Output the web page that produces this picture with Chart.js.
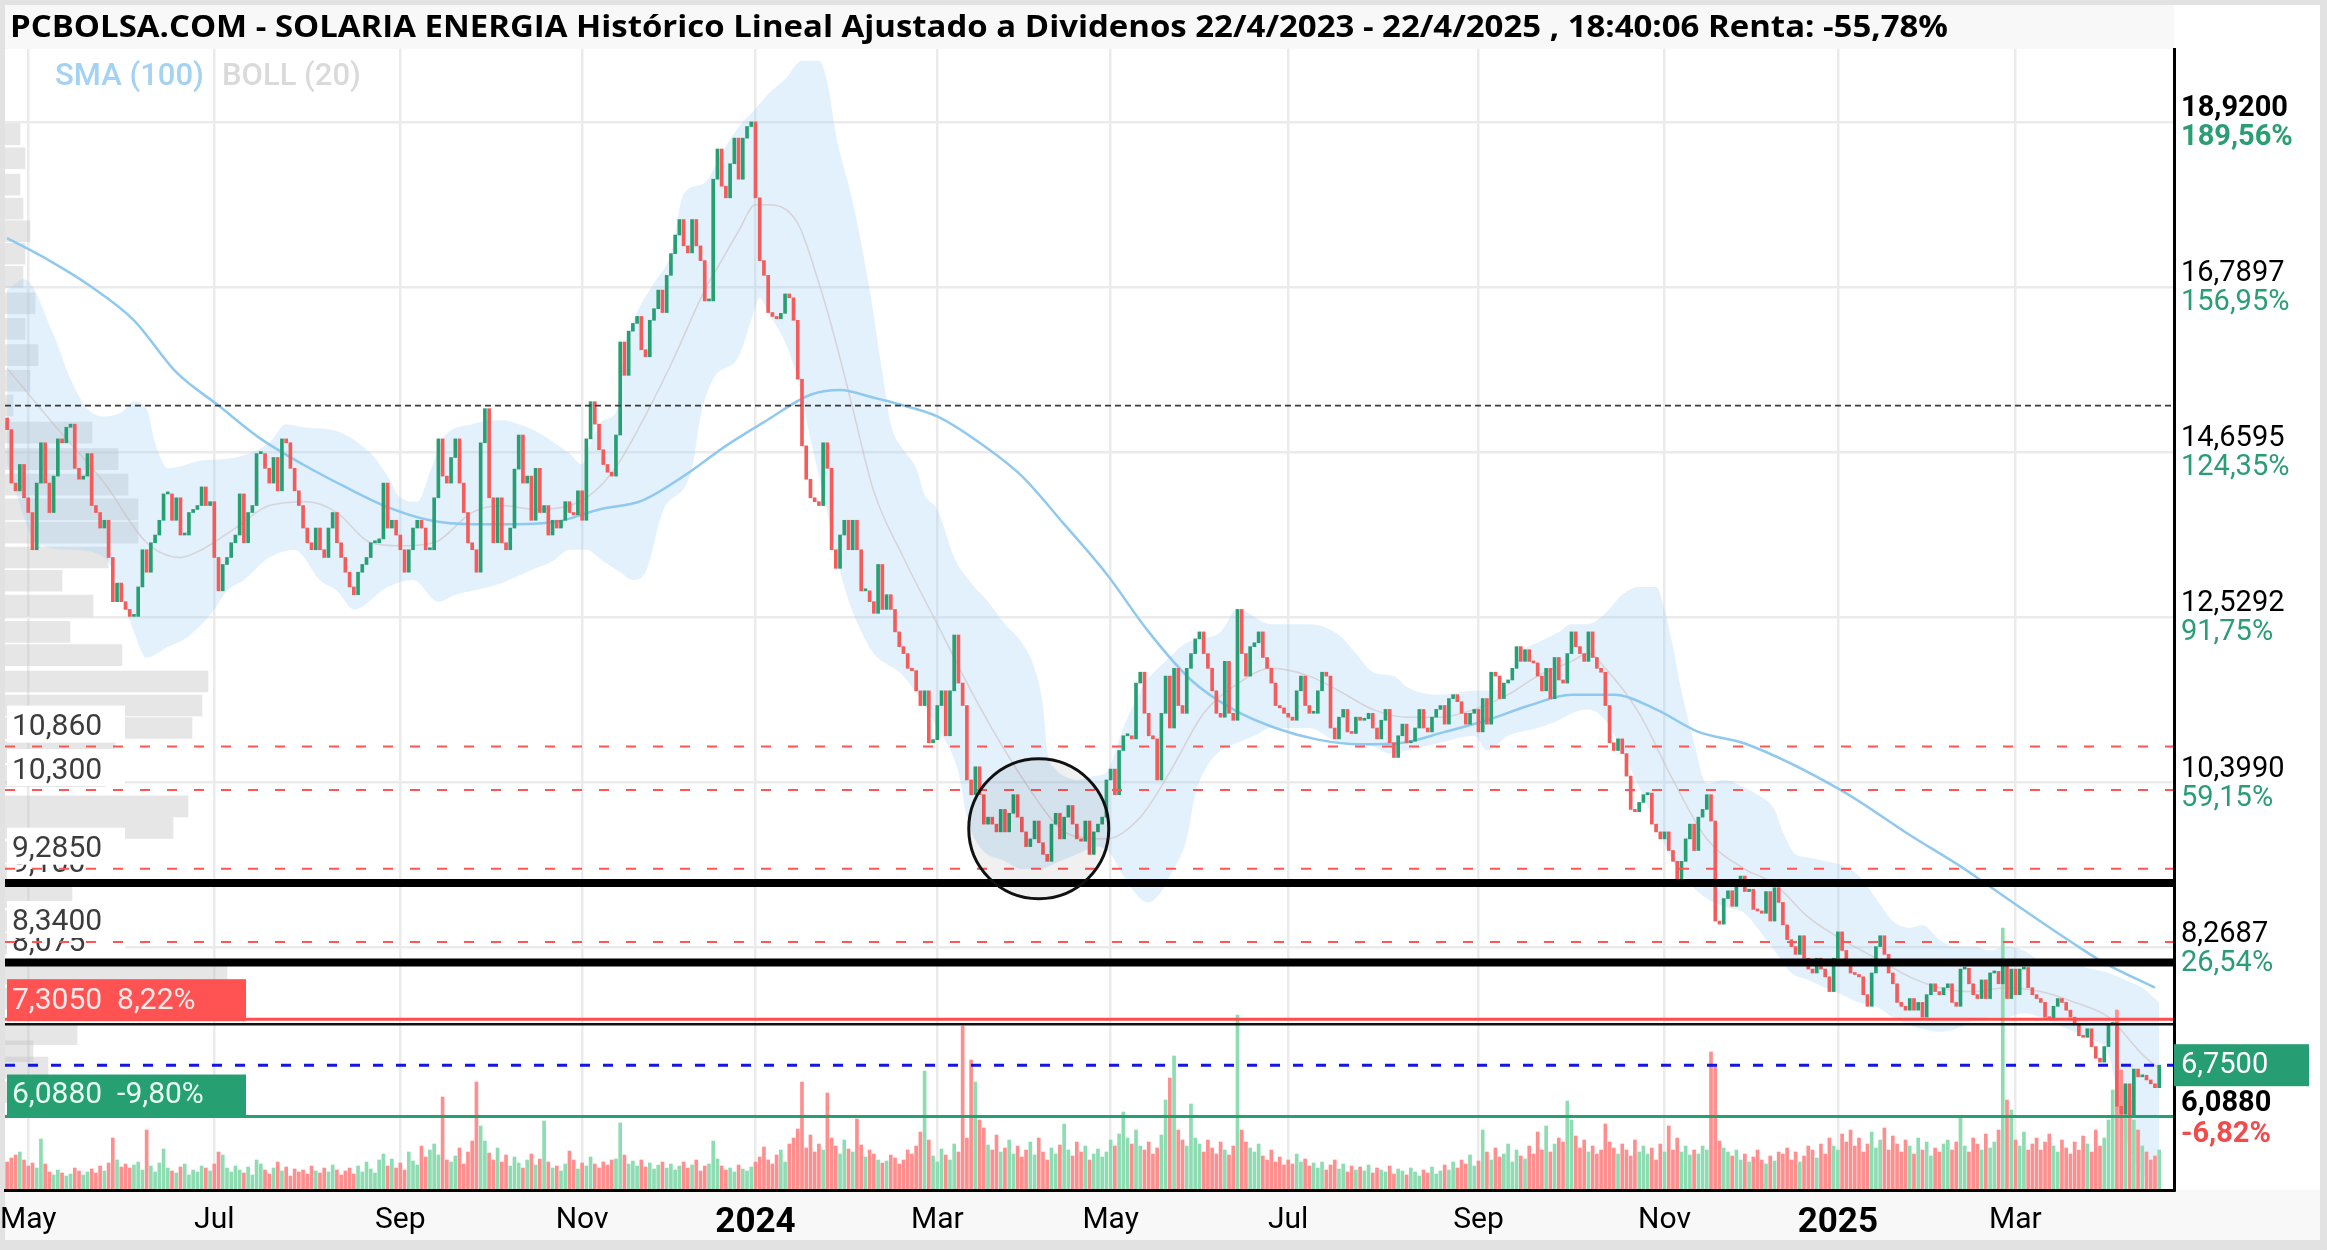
<!DOCTYPE html>
<html>
<head>
<meta charset="utf-8">
<script src="https://cdn.jsdelivr.net/npm/chart.js@4.4.1/dist/chart.umd.min.js"></script>
<style>
  html, body { margin: 0; padding: 0; background: #fff; }
  canvas { display: block; }
</style>
</head>
<body>
<canvas id="chart" width="2327" height="1250"></canvas>
<script>
// SOLARIA ENERGIA daily candles 24/4/2023 - 22/4/2025

const TITLE = 'PCBOLSA.COM - SOLARIA ENERGIA Histórico Lineal Ajustado a Dividenos 22/4/2023 - 22/4/2025 , 18:40:06 Renta: -55,78%';
const N_SLOTS = 513; // 510 sessions + a little room on the right

const firstOpen = 15.10;
// daily closes, one row = 10 sessions
const closes = [
  14.95, 14.26, 14.16, 14.50, 14.07, 13.88, 13.40, 14.26, 14.78, 14.26,
  13.88, 14.35, 14.83, 14.78, 14.98, 15.02, 14.45, 14.31, 14.35, 14.64,
  13.97, 13.88, 13.68, 13.78, 13.30, 12.73, 12.97, 12.73, 12.63, 12.54,
  12.54, 12.92, 13.40, 13.11, 13.49, 13.59, 13.78, 14.12, 14.12, 13.78,
  14.07, 13.59, 13.59, 13.88, 13.92, 13.97, 14.21, 13.97, 14.02, 13.30,
  12.87, 13.21, 13.30, 13.49, 13.59, 14.12, 13.49, 13.88, 13.97, 14.64,
  14.64, 14.45, 14.26, 14.59, 14.16, 14.83, 14.78, 14.45, 14.16, 13.97,
  13.68, 13.49, 13.40, 13.68, 13.40, 13.30, 13.68, 13.88, 13.49, 13.30,
  13.11, 12.92, 12.82, 13.11, 13.21, 13.30, 13.49, 13.49, 13.54, 14.26,
  13.68, 13.78, 13.59, 13.40, 13.11, 13.40, 13.68, 13.78, 13.68, 13.40,
  13.40, 14.07, 14.83, 14.35, 14.26, 14.59, 14.83, 14.26, 13.88, 13.49,
  13.40, 13.11, 14.78, 15.22, 14.07, 13.49, 14.07, 13.49, 13.40, 13.68,
  14.44, 14.88, 14.26, 14.35, 13.78, 14.45, 13.88, 13.97, 13.59, 13.78,
  13.68, 13.78, 14.02, 13.88, 13.85, 14.16, 13.78, 14.83, 15.31, 15.02,
  14.69, 14.50, 14.40, 14.35, 14.88, 16.08, 15.65, 16.22, 16.32, 16.41,
  15.98, 15.89, 16.36, 16.51, 16.75, 16.46, 16.94, 17.22, 17.46, 17.66,
  17.32, 17.23, 17.66, 17.32, 17.13, 16.61, 16.61, 18.18, 18.57, 18.09,
  17.94, 18.38, 18.71, 18.18, 18.71, 18.86, 18.92, 17.94, 17.13, 16.94,
  16.46, 16.41, 16.38, 16.45, 16.70, 16.65, 16.36, 15.60, 14.74, 14.31,
  14.07, 14.02, 13.97, 14.78, 14.45, 13.40, 13.16, 13.59, 13.78, 13.40,
  13.78, 13.40, 12.87, 12.87, 12.73, 12.58, 13.21, 12.63, 12.82, 12.63,
  12.34, 12.15, 12.06, 11.87, 11.84, 11.58, 11.39, 11.58, 10.91, 10.95,
  11.39, 11.58, 11.00, 11.58, 12.30, 11.68, 11.39, 10.43, 10.24, 10.60,
  10.24, 9.86, 9.95, 9.86, 9.76, 10.05, 9.76, 10.00, 10.24, 9.95,
  9.76, 9.57, 9.67, 9.90, 9.62, 9.47, 9.38, 9.86, 10.00, 9.67,
  9.95, 10.10, 9.86, 9.67, 9.64, 9.90, 9.47, 9.76, 9.86, 9.95,
  10.43, 10.57, 10.24, 10.81, 11.00, 11.00, 10.96, 11.68, 11.82, 11.29,
  11.00, 10.96, 10.43, 11.29, 11.77, 11.10, 11.87, 11.39, 11.29, 11.87,
  12.06, 12.25, 12.34, 12.06, 11.87, 11.58, 11.29, 11.24, 11.96, 11.29,
  11.20, 12.63, 12.06, 11.77, 12.15, 12.20, 12.34, 12.01, 11.87, 11.68,
  11.39, 11.36, 11.29, 11.24, 11.20, 11.58, 11.77, 11.39, 11.29, 11.29,
  11.58, 11.82, 11.77, 11.10, 10.96, 11.24, 11.34, 11.05, 11.03, 11.24,
  11.20, 11.22, 11.29, 11.10, 10.96, 11.20, 11.34, 10.91, 10.72, 11.00,
  11.15, 10.91, 10.93, 11.10, 11.34, 11.10, 11.05, 11.24, 11.34, 11.39,
  11.15, 11.48, 11.53, 11.44, 11.29, 11.15, 11.29, 11.34, 11.05, 11.48,
  11.15, 11.82, 11.77, 11.48, 11.68, 11.72, 11.87, 12.15, 11.96, 12.11,
  11.96, 11.94, 11.77, 11.58, 11.87, 11.48, 12.01, 11.72, 11.68, 12.06,
  12.34, 12.15, 12.06, 11.96, 12.34, 12.01, 11.87, 11.82, 11.39, 10.91,
  10.81, 10.96, 10.77, 10.48, 10.05, 10.02, 10.14, 10.24, 10.26, 9.86,
  9.76, 9.67, 9.76, 9.52, 9.38, 9.09, 9.38, 9.67, 9.86, 9.52,
  9.95, 10.05, 10.24, 9.90, 8.61, 8.57, 8.90, 9.00, 8.80, 9.09,
  9.19, 8.99, 9.02, 8.76, 8.74, 8.71, 8.99, 8.61, 9.04, 8.85,
  8.56, 8.37, 8.28, 8.18, 8.42, 8.13, 7.99, 7.94, 8.13, 7.99,
  7.89, 7.70, 8.13, 8.47, 8.23, 8.09, 7.94, 7.92, 7.89, 7.66,
  7.51, 7.94, 8.28, 8.42, 8.18, 7.94, 7.80, 7.56, 7.51, 7.46,
  7.61, 7.46, 7.56, 7.37, 7.66, 7.80, 7.70, 7.66, 7.75, 7.80,
  7.56, 7.51, 7.99, 8.00, 7.80, 7.66, 7.61, 7.85, 7.61, 7.94,
  7.96, 7.80, 8.04, 7.61, 7.99, 7.66, 7.99, 8.01, 7.75, 7.66,
  7.61, 7.56, 7.37, 7.35, 7.51, 7.61, 7.56, 7.46, 7.37, 7.27,
  7.13, 7.11, 7.22, 6.99, 6.84, 6.79, 6.99, 7.27, 7.30, 6.22,
  6.12, 6.51, 6.09, 6.70, 6.60, 6.62, 6.56, 6.51, 6.46, 6.75
];

// daily volume (relative units)
const volumes = [
  28, 32, 35, 38, 30, 24, 27, 22, 51, 26,
  18, 15, 20, 17, 14, 16, 22, 19, 15, 18,
  21, 17, 24, 19, 27, 52, 30, 23, 26, 22,
  25, 28, 20, 60, 24, 18, 27, 41, 22, 19,
  17, 23, 26, 15, 20, 18, 24, 22, 19, 26,
  38, 35, 22, 18, 24, 20, 17, 23, 15, 30,
  26, 20, 16, 22, 28, 19, 23, 14, 21, 18,
  20, 16, 24, 19, 17, 22, 18, 25, 20, 15,
  19, 22, 16, 24, 18, 28, 21, 17, 30, 36,
  24, 31, 22, 27, 20, 38, 29, 25, 44, 33,
  40, 46, 35, 93, 30, 28, 34, 42, 26, 38,
  49, 108, 64, 49, 37, 30, 42, 28, 35, 24,
  33, 27, 22, 30, 36, 25, 31, 69, 28, 22,
  24, 19, 26, 39, 30, 21, 27, 24, 33, 26,
  22, 28, 25, 30, 31, 67, 35, 26, 29, 24,
  30, 23, 27, 21, 25, 28, 22, 26, 20, 24,
  28, 22, 25, 30, 19, 24, 26, 49, 31, 24,
  20, 22, 18, 25, 21, 19, 23, 28, 33, 43,
  30, 26, 35, 40, 28, 46, 52, 61, 108, 42,
  55, 38, 46, 40, 97, 52, 44, 36, 50, 41,
  38, 71, 45, 33, 40, 36, 30, 27, 29, 35,
  32, 26, 30, 40, 36, 44, 58, 119, 50, 34,
  28, 41, 35, 30, 46, 38, 164, 52, 130, 108,
  70, 62, 45, 40, 55, 38, 42, 50, 36, 44,
  33, 40, 48, 35, 52, 38, 30, 42, 36, 45,
  66, 40, 34, 48, 38, 44, 30, 36, 41, 33,
  38, 50, 44, 56, 78, 52, 46, 60, 44, 40,
  48, 36, 42, 55, 90, 112, 134, 60, 50, 44,
  86, 52, 46, 38, 50, 42, 36, 48, 40, 35,
  44, 175, 60, 48, 42, 38, 46, 34, 30, 40,
  28, 33, 25, 30, 26, 36, 28, 31, 24, 27,
  22, 28, 20, 25, 30, 21, 26, 18, 24, 20,
  23, 19, 25, 17, 22, 20, 18, 24, 16, 21,
  19, 15, 22, 18, 14, 20, 17, 23, 16, 19,
  25, 20, 28, 22, 30, 26, 35, 24, 29, 60,
  38, 30, 42, 33, 36, 46, 28, 40, 34, 31,
  44, 36, 58, 40, 64, 38, 46, 52, 48, 89,
  70, 54, 42, 50, 38, 44, 36, 40, 66, 48,
  42, 36, 46, 40, 34, 50, 38, 44, 36, 42,
  30, 46, 38, 64, 40, 52, 38, 44, 35, 40,
  36, 44, 40, 138, 123, 49, 42, 38, 34, 40,
  30, 36, 28, 33, 40, 30, 26, 34, 29, 38,
  36, 42, 30, 38, 28, 34, 44, 40, 32, 46,
  36, 52, 44, 40, 56, 48, 60, 44, 52, 38,
  46, 58, 42, 50, 62, 40, 54, 46, 38, 50,
  44, 36, 52, 40, 48, 34, 42, 38, 46, 50,
  40, 48, 74, 44, 38, 52, 46, 40, 56, 42,
  48, 60, 262, 90, 80, 50, 44, 58, 40, 46,
  52, 40, 48, 56, 44, 38, 50, 42, 36, 48,
  40, 54, 46, 38, 60, 44, 52, 70, 100, 180,
  120, 105, 90, 70, 60, 44, 38, 30, 34, 40
];

const monthIdx = [5, 49, 93, 136, 177, 220, 261, 303, 348, 392, 433, 475];
const monthLabels = ['May', 'Jul', 'Sep', 'Nov', '2024', 'Mar', 'May', 'Jul', 'Sep', 'Nov', '2025', 'Mar'];

// indicator lines: [session, price]
const smaPts = [
  [0, 17.42], [10, 17.13], [20, 16.79], [30, 16.36], [40, 15.69], [50, 15.26], [60, 14.83], [70, 14.50],
  [80, 14.21], [90, 13.95], [100, 13.78], [110, 13.73], [120, 13.73], [130, 13.76], [140, 13.92], [150, 14.03],
  [160, 14.35], [170, 14.74], [180, 15.08], [190, 15.40], [197, 15.46], [205, 15.36], [210, 15.29], [220, 15.12],
  [230, 14.78], [240, 14.35], [250, 13.73], [260, 13.09], [270, 12.34], [280, 11.72], [290, 11.34], [300, 11.10],
  [310, 10.95], [320, 10.89], [330, 10.91], [340, 11.05], [350, 11.20], [360, 11.39], [370, 11.53], [380, 11.53],
  [390, 11.34], [400, 11.05], [411, 10.90], [434, 10.29], [450, 9.72], [463, 9.28], [468, 9.09], [489, 8.31],
  [496, 8.07], [508, 7.75]
];
const bbUpperPts = [
  [0, 16.75], [4, 16.89], [11, 16.17], [15, 15.60], [19, 15.22], [23, 15.12], [27, 15.17], [30, 15.31], [33, 15.22],
  [35, 14.78], [38, 14.45], [46, 14.55], [54, 14.59], [62, 14.78], [66, 15.02], [70, 14.98], [78, 14.93], [86, 14.64],
  [90, 14.35], [93, 14.07], [97, 14.02], [100, 14.40], [103, 14.83], [110, 15.02], [117, 15.07], [121, 15.02],
  [125, 14.93], [133, 14.64], [136, 14.50], [138, 14.78], [141, 15.07], [144, 15.17], [146, 15.98], [149, 16.46],
  [153, 16.84], [157, 17.22], [160, 17.99], [165, 18.13], [169, 18.52], [173, 18.85], [177, 19.09], [180, 19.28],
  [184, 19.47], [188, 19.71], [192, 19.71], [194, 19.43], [196, 18.76], [200, 17.89], [204, 16.75], [207, 15.69],
  [209, 15.02], [212, 14.69], [215, 14.45], [217, 14.11], [220, 13.92], [224, 13.30], [228, 12.97], [232, 12.73],
  [236, 12.44], [240, 12.20], [243, 11.87], [245, 11.39], [246, 10.81], [248, 10.57], [250, 10.48], [253, 10.43],
  [257, 10.48], [260, 10.53], [264, 11.10], [269, 11.67], [274, 11.96], [279, 12.20], [287, 12.34], [291, 12.63],
  [299, 12.44], [308, 12.44], [315, 12.30], [319, 12.06], [323, 11.82], [328, 11.77], [331, 11.63], [339, 11.53],
  [347, 11.58], [350, 11.58], [355, 11.67], [358, 12.06], [362, 12.20], [367, 12.34], [370, 12.44], [374, 12.44],
  [378, 12.58], [382, 12.82], [386, 12.92], [390, 12.92], [392, 12.63], [394, 12.15], [396, 11.58], [399, 10.91],
  [402, 10.38], [406, 10.43], [411, 10.33], [414, 10.24], [418, 10.05], [420, 9.76], [423, 9.47], [426, 9.43],
  [430, 9.38], [434, 9.33], [438, 9.19], [442, 8.90], [446, 8.61], [450, 8.52], [453, 8.56], [457, 8.37],
  [461, 8.28], [465, 8.28], [469, 8.23], [473, 8.28], [477, 8.23], [481, 8.09], [485, 8.04], [489, 8.04],
  [493, 7.99], [497, 7.94], [501, 7.85], [505, 7.75], [509, 7.56]
];
const bbLowerPts = [
  [0, 14.50], [7, 13.49], [15, 13.40], [23, 13.30], [26, 13.01], [30, 12.34], [33, 12.01], [38, 12.15], [42, 12.25],
  [46, 12.44], [49, 12.63], [52, 12.87], [56, 13.01], [62, 13.30], [68, 13.40], [74, 13.01], [78, 12.87], [82, 12.63],
  [90, 12.92], [96, 13.01], [102, 12.73], [106, 12.82], [110, 12.87], [114, 12.92], [117, 12.97], [125, 13.16],
  [129, 13.25], [133, 13.40], [137, 13.40], [141, 13.25], [145, 13.11], [148, 13.01], [151, 13.11], [155, 13.88],
  [162, 14.45], [164, 15.12], [167, 15.60], [173, 15.89], [176, 16.36], [178, 16.65], [180, 16.46], [184, 16.08],
  [187, 15.60], [190, 14.83], [194, 13.88], [198, 12.92], [202, 12.35], [205, 12.06], [212, 11.77], [220, 11.10],
  [225, 10.53], [227, 9.95], [230, 9.57], [236, 9.38], [240, 9.28], [244, 9.28], [249, 9.38], [253, 9.47],
  [258, 9.57], [261, 9.47], [264, 9.19], [268, 8.90], [270, 8.85], [273, 8.99], [275, 9.19], [279, 9.67],
  [281, 10.24], [283, 10.53], [287, 10.81], [291, 10.91], [295, 11.00], [299, 11.10], [308, 11.10], [315, 10.91],
  [323, 10.86], [327, 10.77], [331, 10.81], [339, 10.91], [347, 11.00], [350, 10.81], [355, 11.00], [362, 11.10],
  [367, 11.20], [370, 11.29], [374, 11.34], [378, 11.20], [382, 10.81], [386, 10.33], [390, 9.86], [394, 9.38],
  [398, 9.09], [402, 8.90], [406, 8.80], [411, 8.71], [414, 8.52], [418, 8.23], [422, 7.94], [426, 7.85],
  [430, 7.75], [434, 7.66], [438, 7.56], [442, 7.51], [446, 7.37], [450, 7.27], [453, 7.22], [457, 7.18],
  [461, 7.22], [465, 7.32], [469, 7.37], [473, 7.37], [477, 7.42], [481, 7.37], [485, 7.27], [489, 7.18],
  [493, 7.08], [497, 6.89], [499, 6.41], [501, 5.84], [505, 5.36], [509, 5.12]
];
const bbMidPts = [
  [0, 15.74], [11, 15.02], [23, 14.26], [33, 13.49], [41, 13.30], [46, 13.40], [54, 13.68], [62, 13.97], [71, 14.02],
  [78, 13.88], [86, 13.49], [93, 13.45], [101, 13.49], [110, 13.88], [117, 13.97], [125, 13.92], [133, 13.97],
  [137, 14.07], [141, 14.26], [145, 14.55], [149, 14.93], [157, 15.79], [165, 16.75], [169, 17.13], [173, 17.51],
  [177, 17.85], [180, 17.85], [187, 17.61], [192, 16.84], [196, 16.08], [200, 15.22], [205, 14.15], [212, 13.30],
  [220, 12.44], [228, 11.58], [236, 10.81], [244, 10.14], [248, 9.86], [252, 9.71], [260, 9.67], [268, 9.95],
  [275, 10.53], [283, 11.29], [291, 11.67], [299, 11.87], [308, 11.77], [315, 11.58], [323, 11.34], [331, 11.24],
  [339, 11.24], [347, 11.34], [355, 11.53], [362, 11.77], [370, 11.96], [374, 12.06], [378, 11.87], [386, 11.29],
  [394, 10.43], [402, 9.67], [411, 9.28], [418, 9.09], [426, 8.66], [434, 8.37], [442, 8.13], [450, 7.89],
  [457, 7.75], [465, 7.70], [473, 7.75], [481, 7.70], [489, 7.56], [497, 7.37], [505, 6.89], [509, 6.70]
];

// volume-at-price profile on the left: [price, volume]
const profilePts = [
  [18.76, 15], [18.45, 20], [18.11, 15], [17.80, 18], [17.51, 25], [17.22, 20], [16.92, 18], [16.58, 30],
  [16.25, 20], [15.91, 33], [15.58, 25], [15.26, 8], [14.91, 87], [14.57, 113], [14.24, 123], [13.92, 133],
  [13.62, 133], [13.30, 103], [13.00, 57], [12.68, 88], [12.34, 65], [12.04, 117], [11.70, 203], [11.39, 197],
  [11.10, 187], [10.79, 110], [10.48, 100], [10.09, 183], [9.81, 168], [9.50, 110], [9.20, 90], [8.92, 67],
  [8.61, 60], [8.32, 50], [7.93, 222], [7.61, 150], [7.15, 72], [6.93, 28], [6.72, 43], [6.40, 20]
];

// price axis
const yMin = 5.14, yMax = 19.86;
const gridValues = [18.92, 16.7897, 14.6595, 12.5292, 10.399, 8.2687];
const gridPct = ['189,56%', '156,95%', '124,35%', '91,75%', '59,15%', '26,54%'];

// drawn levels
const dashedLevels = [10.86, 10.30, 9.285, 8.34];
const dashedLabels = ['10,860', '10,300', '9,2850', '8,3400'];
const blackLevels = [9.10, 8.075];
const blackLabels = ['9,100', '8,075'];
const refLevel = 15.26;
const targetUp = 7.305, targetUpPct = '8,22%';
const targetDown = 6.088, targetDownPct = '-9,80%';
const lastPrice = 6.75;
const minPrice = 6.088, minPct = '-6,82%';
const circleAt = [244, 9.80];

const FONT = 'Roboto, "DejaVu Sans", sans-serif';
const UP = '#26a073', DOWN = '#f45b5b';
const fmt = (v, d) => v.toFixed(d).replace('.', ',');
const toXY = arr => arr.map(p => ({ x: p[0], y: p[1] }));

// open taken as previous session close
const opens = closes.map((c, i) => (i === 0 ? firstOpen : closes[i - 1]));
const isUp = closes.map((c, i) => c >= opens[i]);

const framePlugin = {
  id: 'frame',
  beforeDraw(chart) {
    const c = chart.ctx, a = chart.chartArea, W = chart.width, H = chart.height;
    c.save();
    c.fillStyle = '#e2e2e2';
    c.fillRect(0, 0, W, H);
    c.fillStyle = '#fff';
    c.fillRect(5, 5, W - 12, H - 15);
    c.fillStyle = '#f8f8f8';
    c.fillRect(5, 5, a.right - 5, a.top - 5);
    c.fillRect(5, a.bottom, W - 12, H - 10 - a.bottom);
    // title, fitted to the width it has in the reference
    c.font = 'bold 30px "Open Sans", ' + FONT;
    c.fillStyle = '#000';
    c.textBaseline = 'middle';
    const tw = c.measureText(TITLE).width;
    c.translate(10, 28);
    c.scale(1938 / tw, 1);
    c.fillText(TITLE, 0, 0);
    c.restore();
  },
  afterDraw(chart) {
    const c = chart.ctx;
    c.save();
    c.textBaseline = 'middle';
    c.font = '500 31px ' + FONT;
    c.fillStyle = '#a3d2f3';
    c.fillText('SMA (100)', 55, 77);
    c.fillStyle = '#dadada';
    c.fillText('BOLL (20)', 222, 77);
    c.restore();
  }
};

const levelsPlugin = {
  id: 'levels',
  afterDatasetsDraw(chart) {
    const c = chart.ctx, a = chart.chartArea, ys = chart.scales.y, xs = chart.scales.x;
    const L = a.left, R = a.right;
    const py = v => ys.getPixelForValue(v);
    const hline = (y) => { c.beginPath(); c.moveTo(L, y); c.lineTo(R, y); c.stroke(); };
    c.save();

    // reference level (dotted)
    c.strokeStyle = '#3a3a3a';
    c.lineWidth = 1.8;
    c.setLineDash([6, 4]);
    hline(py(refLevel));

    // left labels, lowest first so higher boxes overlap lower ones
    const lbls = [];
    dashedLevels.forEach((v, k) => lbls.push([v, dashedLabels[k]]));
    blackLevels.forEach((v, k) => lbls.push([v, blackLabels[k]]));
    lbls.sort((p, q) => p[0] - q[0]);
    c.setLineDash([]);
    c.font = '30px ' + FONT;
    c.textBaseline = 'middle';
    lbls.forEach(([v, t]) => {
      const y = py(v);
      c.fillStyle = '#fff';
      c.fillRect(L + 2, y - 41, 118, 37);
      c.fillStyle = '#3c3c3c';
      c.fillText(t, L + 7, y - 19);
    });

    // dashed red levels
    c.strokeStyle = '#ff5555';
    c.lineWidth = 2;
    c.setLineDash([10, 17]);
    dashedLevels.forEach(v => hline(py(v)));

    // thick black levels
    c.setLineDash([]);
    c.strokeStyle = '#000';
    c.lineWidth = 8;
    blackLevels.forEach(v => hline(py(v)));

    // upper target (red) with its tag
    const yu = py(targetUp);
    c.lineWidth = 3;
    c.strokeStyle = '#ff4d4d';
    hline(yu - 3);
    c.lineWidth = 2.5;
    c.strokeStyle = '#111';
    hline(yu + 2);
    c.fillStyle = '#ff5252';
    c.fillRect(L + 2, yu - 43, 239, 42);
    c.fillStyle = '#ffe9e9';
    c.fillText(fmt(targetUp, 4) + '  ' + targetUpPct, L + 7, yu - 21);

    // last price (blue dashed)
    c.strokeStyle = '#1414e6';
    c.lineWidth = 3;
    c.setLineDash([10, 13]);
    hline(py(lastPrice));

    // lower target (green) with its tag
    c.setLineDash([]);
    const yd = py(targetDown);
    c.strokeStyle = '#26a073';
    c.lineWidth = 3;
    hline(yd);
    c.fillStyle = '#26a073';
    c.fillRect(L + 2, yd - 42, 239, 42);
    c.fillStyle = '#e9fff5';
    c.fillText(fmt(targetDown, 4) + '  ' + targetDownPct, L + 7, yd - 21);

    // circled range
    const cx = xs.getPixelForValue(circleAt[0]), cy = ys.getPixelForValue(circleAt[1]);
    c.beginPath();
    c.arc(cx, cy, 70, 0, Math.PI * 2);
    c.fillStyle = 'rgba(0,0,0,0.06)';
    c.fill();
    c.strokeStyle = '#111';
    c.lineWidth = 3;
    c.stroke();
    c.restore();
  },
  afterDraw(chart) {
    const c = chart.ctx, a = chart.chartArea, ys = chart.scales.y;
    const x0 = a.right + 7;
    c.save();
    c.textBaseline = 'middle';
    c.textAlign = 'left';
    gridValues.forEach((v, k) => {
      const y = ys.getPixelForValue(v);
      c.font = (k === 0 ? 'bold ' : '') + '29px ' + FONT;
      c.fillStyle = '#000';
      c.fillText(fmt(v, 4), x0, y - 13);
      c.fillStyle = '#2a9d74';
      c.fillText(gridPct[k], x0, y + 16);
    });
    const yl = ys.getPixelForValue(lastPrice);
    c.fillStyle = '#279d74';
    c.fillRect(a.right, yl - 21, chart.width - 18 - a.right, 42);
    c.fillStyle = '#fff';
    c.font = '29px ' + FONT;
    c.fillText(fmt(lastPrice, 4), x0, yl + 1);
    const ym = ys.getPixelForValue(minPrice);
    c.font = 'bold 29px ' + FONT;
    c.fillStyle = '#000';
    c.fillText(fmt(minPrice, 4), x0, ym - 13);
    c.fillStyle = '#f24b4b';
    c.fillText(minPct, x0, ym + 18);
    c.restore();
  }
};

const ctx = document.getElementById('chart').getContext('2d');
new Chart(ctx, {
  type: 'bar',
  data: {
    datasets: [
      {
        label: 'profile', type: 'bar', indexAxis: 'y', xAxisID: 'xp', yAxisID: 'y',
        data: profilePts.map(p => ({ x: p[1], y: p[0] })),
        backgroundColor: 'rgba(195,195,195,0.42)', barThickness: 21, grouped: false, order: 10
      },
      {
        label: 'bbUpper', type: 'line', xAxisID: 'x', yAxisID: 'y', data: toXY(bbUpperPts),
        borderWidth: 0, pointRadius: 0, cubicInterpolationMode: 'monotone',
        fill: '+1', backgroundColor: 'rgba(150,205,245,0.28)', order: 9
      },
      {
        label: 'bbLower', type: 'line', xAxisID: 'x', yAxisID: 'y', data: toXY(bbLowerPts),
        borderWidth: 0, pointRadius: 0, cubicInterpolationMode: 'monotone', fill: false, order: 8
      },
      {
        label: 'bbMid', type: 'line', xAxisID: 'x', yAxisID: 'y', data: toXY(bbMidPts),
        borderColor: 'rgba(205,185,185,0.55)', borderWidth: 1.5, pointRadius: 0,
        cubicInterpolationMode: 'monotone', fill: false, order: 7
      },
      {
        label: 'SMA (100)', type: 'line', xAxisID: 'x', yAxisID: 'y', data: toXY(smaPts),
        borderColor: '#8fc9ef', borderWidth: 2.5, pointRadius: 0,
        cubicInterpolationMode: 'monotone', fill: false, order: 6
      },
      {
        label: 'volume', type: 'bar', xAxisID: 'x', yAxisID: 'yv',
        data: volumes.map((v, i) => ({ x: i, y: v })),
        backgroundColor: isUp.map(u => (u ? '#8edcb2' : '#ff8e8e')),
        barThickness: 3, grouped: false, order: 5
      },
      {
        label: 'price', type: 'bar', xAxisID: 'x', yAxisID: 'y',
        data: closes.map((cl, i) => ({ x: i, y: [opens[i], cl] })),
        backgroundColor: isUp.map(u => (u ? UP : DOWN)),
        barThickness: 3, minBarLength: 2, grouped: false, order: 4
      }
    ]
  },
  options: {
    responsive: false,
    devicePixelRatio: 1,
    animation: false,
    events: [],
    layout: { padding: { left: 5, top: 49, right: 153, bottom: 0 } },
    plugins: { legend: { display: false }, tooltip: { enabled: false } },
    scales: {
      x: {
        type: 'linear', position: 'bottom', min: -0.5, max: N_SLOTS - 0.5, bounds: 'data', offset: false,
        afterBuildTicks: s => { s.ticks = monthIdx.map(v => ({ value: v })); },
        afterFit: s => { s.height = 60; s.paddingLeft = 0; s.paddingRight = 0; },
        ticks: {
          autoSkip: false, maxRotation: 0, padding: 12, color: '#000',
          callback: (v, i) => monthLabels[i],
          font: c => (/^\d{4}$/.test(monthLabels[c.index] || '')
            ? { family: FONT, size: 35, weight: 'bold' }
            : { family: FONT, size: 30 })
        },
        grid: { color: '#ebebeb', lineWidth: 2.5, drawTicks: false, offset: false },
        border: { display: true, color: '#000', width: 3, z: 1 }
      },
      y: {
        type: 'linear', position: 'right', min: yMin, max: yMax, offset: false,
        afterBuildTicks: s => { s.ticks = gridValues.map(v => ({ value: v })); },
        afterFit: s => { s.width = 0; },
        ticks: { display: false },
        grid: { color: '#ebebeb', lineWidth: 2.5, drawTicks: false, offset: false },
        border: { display: true, color: '#000', width: 3, z: 1 }
      },
      yv: { type: 'linear', display: false, min: 0, max: 1141, offset: false },
      xp: {
        type: 'linear', axis: 'x', display: false, min: 0, max: 2169, bounds: 'data',
        offset: false, grid: { offset: false }
      }
    }
  },
  plugins: [framePlugin, levelsPlugin]
});
</script>
</body>
</html>
